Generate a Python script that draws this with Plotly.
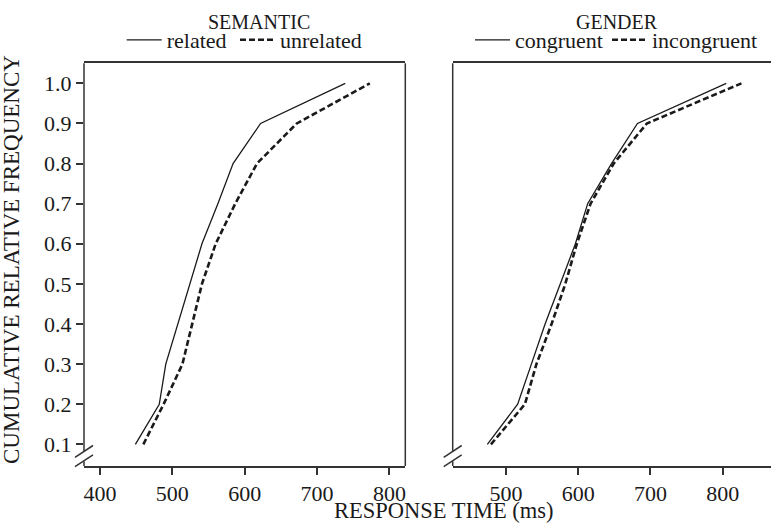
import plotly.graph_objects as go

# ---- data ----
freq = [0.1, 0.2, 0.3, 0.4, 0.5, 0.6, 0.7, 0.8, 0.9, 1.0]
semantic_related = [449, 482, 491, 508, 524, 541, 563, 584, 622, 739]
semantic_unrelated = [460, 488, 514, 527, 541, 560, 587, 617, 672, 773]
gender_congruent = [474, 516, 535, 554, 575, 596, 613, 646, 682, 805]
gender_incongruent = [479, 526, 542, 563, 582, 598, 617, 649, 695, 826]
y_ticks = [0.1, 0.2, 0.3, 0.4, 0.5, 0.6, 0.7, 0.8, 0.9, 1.0]
y_ticklabels = ["0.1", "0.2", "0.3", "0.4", "0.5", "0.6", "0.7", "0.8", "0.9", "1.0"]
x_ticks_left = [400, 500, 600, 700, 800]
x_ticks_right = [500, 600, 700, 800]

FONT = "Liberation Serif"
INK = "#1a1a1a"
AX = "#333333"

fig = go.Figure()

fig.add_trace(go.Scatter(x=semantic_related, y=freq, mode="lines", name="related",
                         line=dict(color=INK, width=1.3), xaxis="x", yaxis="y", legend="legend"))
fig.add_trace(go.Scatter(x=semantic_unrelated, y=freq, mode="lines", name="unrelated",
                         line=dict(color=INK, width=2.6, dash="6px,3px"), xaxis="x", yaxis="y", legend="legend2"))
fig.add_trace(go.Scatter(x=gender_congruent, y=freq, mode="lines", name="congruent",
                         line=dict(color=INK, width=1.3), xaxis="x2", yaxis="y2", legend="legend3"))
fig.add_trace(go.Scatter(x=gender_incongruent, y=freq, mode="lines", name="incongruent",
                         line=dict(color=INK, width=2.6, dash="6px,3px"), xaxis="x2", yaxis="y2", legend="legend4"))

W, H = 771, 524
ydom = [1 - 466 / H, 1 - 63.3 / H]
xdom1 = [84 / W, 405.3 / W]
xdom2 = [452.7 / W, 1.0]

tickfont = dict(family=FONT, size=22, color=INK)
xcommon = dict(showline=True, mirror=True, linecolor=AX, linewidth=1.5, ticks="outside",
               ticklen=7, tickwidth=1.5, tickcolor=AX, showgrid=False, zeroline=False,
               tickfont=tickfont)

fig.update_layout(
    width=W, height=H,
    margin=dict(l=0, r=0, t=0, b=0, autoexpand=False),
    paper_bgcolor="white", plot_bgcolor="white",
    xaxis=dict(domain=xdom1, range=[378, 822], tickvals=x_ticks_left, anchor="y", **xcommon),
    yaxis=dict(domain=ydom, range=[0.046, 1.05], tickvals=y_ticks, ticktext=y_ticklabels,
               showline=False, ticks="outside", ticklen=7, tickwidth=1.5, tickcolor=AX,
               showgrid=False, zeroline=False, tickfont=tickfont, anchor="x"),
    xaxis2=dict(domain=xdom2, range=[426, 867], tickvals=x_ticks_right, anchor="y2", **xcommon),
    yaxis2=dict(domain=ydom, range=[0.046, 1.05], showline=False, showticklabels=False,
                ticks="", showgrid=False, zeroline=False, anchor="x2"),
    showlegend=True,
)

legfont = dict(family=FONT, size=22, color=INK)
for name, xl in [("legend", 121.7), ("legend2", 235), ("legend3", 470), ("legend4", 607)]:
    fig.update_layout(**{name: dict(x=xl / W, y=1 - 40 / H, xanchor="left", yanchor="middle",
                                    font=legfont, bgcolor="rgba(0,0,0,0)", borderwidth=0,
                                    itemwidth=35, tracegroupgap=0)})

# Titles
ann = dict(xref="paper", yref="paper", showarrow=False, xanchor="center", yanchor="middle")
fig.add_annotation(text="SEMANTIC", x=258.8 / W, y=1 - 21.7 / H,
                   font=dict(family=FONT, size=20, color=INK), **ann)
fig.add_annotation(text="GENDER", x=617 / W, y=1 - 21.7 / H,
                   font=dict(family=FONT, size=20, color=INK), **ann)
fig.add_annotation(text="RESPONSE TIME (ms)", x=444 / W, y=1 - 510 / H,
                   font=dict(family=FONT, size=22.5, color=INK), **ann)
fig.add_annotation(text="CUMULATIVE RELATIVE FREQUENCY", x=11 / W, y=1 - 260 / H, textangle=-90,
                   font=dict(family=FONT, size=23, color=INK), **ann)

# Axis lines with break marks
ln = dict(color=AX, width=1.5)
for xr, yr in [("x domain", "y domain"), ("x2 domain", "y2 domain")]:
    fig.add_shape(type="line", xref=xr, yref=yr, x0=0, x1=0, y0=0.037, y1=1, line=ln)
    fig.add_shape(type="line", xref=xr, yref=yr, x0=0, x1=0, y0=0, y1=0.012, line=ln)
    for yb in [-0.7, 8.7]:
        fig.add_shape(type="line", xref=xr, yref=yr, xsizemode="pixel", ysizemode="pixel",
                      xanchor=0, yanchor=0, x0=-9, x1=9, y0=yb, y1=yb + 11.8, line=ln)
fig.add_shape(type="line", xref="x domain", yref="y domain", x0=1, x1=1, y0=0, y1=1, line=ln)

fig.write_html("out.html", config={"displayModeBar": False},
               post_script="document.body.style.margin='0px';")
